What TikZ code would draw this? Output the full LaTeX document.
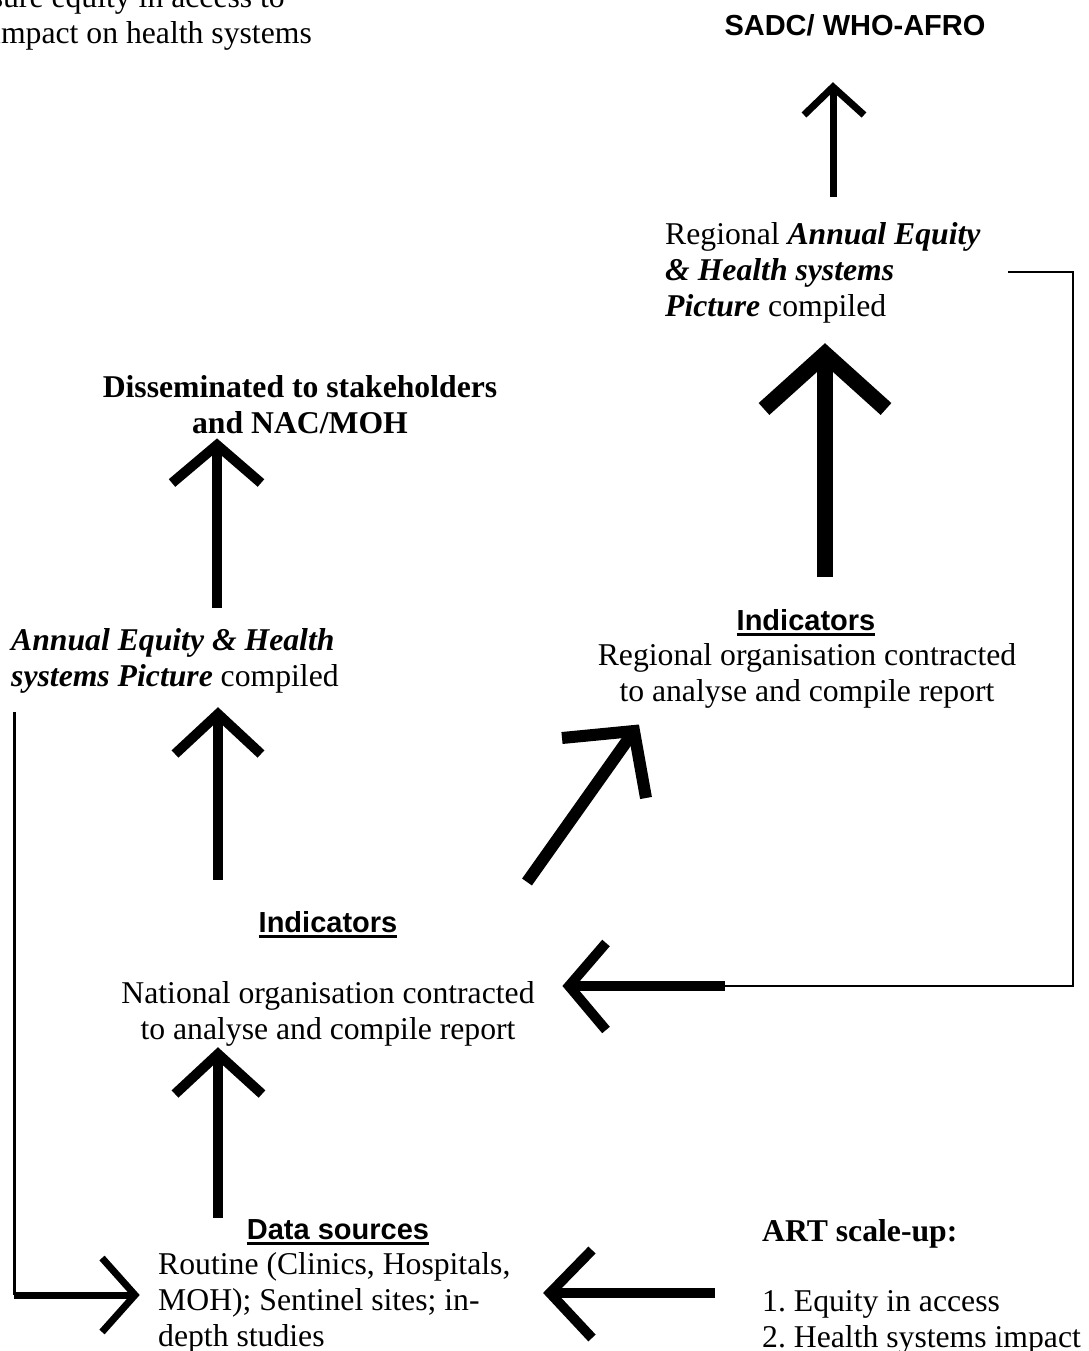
\documentclass[tikz,border=0pt]{standalone}
\usepackage{fontspec}
\setmainfont{Liberation Serif}
\setsansfont{Liberation Sans}
\usetikzlibrary{calc}
\newcommand\serifsz{\fontsize{31.7pt}{36pt}\selectfont}
\newcommand\sanshead{\fontsize{29pt}{34pt}\selectfont\sffamily\bfseries}
\newcommand\rowsof[2]{\begin{tabular}[t]{@{}#1@{}}#2\end{tabular}}
\newcommand\bi[1]{\textbf{\textit{#1}}}
\newcommand\undl[1]{\setbox0\hbox{#1}\rlap{\rule[-5.5pt]{\wd0}{2.5pt}}\box0}
\newcommand\headV[4]{\draw[#1] ($(#2)+(#3)$) -- (#2) -- ($(#2)+(#4)$);}
\begin{document}
\begin{tikzpicture}[x=1pt,y=-1pt,
  txt/.style={inner sep=0pt, font=\serifsz},
  head/.style={inner sep=0pt, font=\sanshead},
  thinln/.style={line width=2pt},
  shaft/.style={line width=#1, line cap=butt},
  barb/.style={line width=#1, line join=miter, line cap=butt}]
\useasboundingbox (0,0) rectangle (1088,1351);
\fill[white] (0,0) rectangle (1088,1351);

% texts
\node[txt, anchor=base east] (topA) at (285,8) {sure equity in access to};
\node[txt, anchor=base east] (topB) at (312,44) {impact on health systems};
\node[head, anchor=base] (sadc) at (855,36) {SADC/ WHO-AFRO};
\node[txt, anchor=base west] (regpic) at (665,244) {\rowsof{l}{Regional \bi{Annual Equity}\\ \bi{\& Health systems}\\ \bi{Picture} compiled}};
\node[head, anchor=base] (regindh) at (806,630) {\undl{Indicators}};
\node[txt, anchor=base] (regind) at (807,665) {\rowsof{c}{Regional organisation contracted\\to analyse and compile report}};
\node[txt, anchor=base, font=\serifsz\bfseries] (dissem) at (300,397) {\rowsof{c}{Disseminated to stakeholders\\and NAC/MOH}};
\node[txt, anchor=base west] (natpic) at (11,650) {\rowsof{l}{\bi{Annual Equity \& Health}\\ \bi{systems Picture} compiled}};
\node[head, anchor=base] (natindh) at (328,932) {\undl{Indicators}};
\node[txt, anchor=base] (natind) at (328,1003) {\rowsof{c}{National organisation contracted\\to analyse and compile report}};
\node[head, anchor=base] (datah) at (338,1239) {\undl{Data sources}};
\node[txt, anchor=base west] (data) at (158,1274) {\rowsof{l}{Routine (Clinics, Hospitals,\\MOH); Sentinel sites; in-\\depth studies}};
\node[txt, anchor=base west, font=\serifsz\bfseries] (art) at (762,1241) {ART scale-up:};
\node[txt, anchor=base west] (artlist) at (762,1311) {\rowsof{l}{1.\ Equity in access\\2.\ Health systems impact}};

% connector end points
\coordinate (aT) at (833,197);  \coordinate (aH) at (833,87);
\coordinate (bT) at (825,577);  \coordinate (bH) at (825,354);
\coordinate (cT) at (217,608);  \coordinate (cH) at (217,445);
\coordinate (dT) at (218,880);  \coordinate (dH) at (218,714);
\coordinate (fT) at (218,1218); \coordinate (fH) at (218,1054);
\coordinate (gT) at (527,882);  \coordinate (gH) at (634,731);
\coordinate (loopR1) at (1008,272); \coordinate (loopR2) at (1073,272);
\coordinate (loopR3) at (1073,986); \coordinate (hT) at (725,986);
\coordinate (hH) at (569,986);
\coordinate (iT) at (715,1293); \coordinate (iH) at (550,1293);
\coordinate (loopL1) at (14,712); \coordinate (loopL2) at (14,1295);
\coordinate (jH) at (135,1295);

% regional picture -> SADC
\draw[shaft=7pt] (aT) -- (aH);
\headV{barb=7pt}{aH}{-29,28}{31,28}
% regional indicators -> regional picture
\draw[shaft=16pt] (bT) -- (bH);
\headV{barb=16pt}{bH}{-61,55}{61,55}
% national picture -> disseminated
\draw[shaft=10pt] (cT) -- (cH);
\headV{barb=10pt}{cH}{-45,38}{44,38}
% national indicators -> national picture
\draw[shaft=10pt] (dT) -- (dH);
\headV{barb=10pt}{dH}{-43,40}{43,40}
% data sources -> national indicators
\draw[shaft=10pt] (fT) -- (fH);
\headV{barb=10pt}{fH}{-43,40}{44,40}
% national -> regional indicators
\draw[shaft=12pt] (gT) -- (gH);
\headV{barb=12pt}{gH}{-72,7}{12,67}
% regional picture feedback -> national indicators
\draw[thinln] (loopR1) -- (loopR2) -- (loopR3) -- (hT);
\draw[shaft=10pt] (hT) -- (hH);
\headV{barb=10pt}{hH}{37,-43}{37,44}
% ART scale-up -> data sources
\draw[shaft=10pt] (iT) -- (iH);
\headV{barb=10pt}{iH}{42,-43}{42,45}
% national picture feedback -> data sources
\draw[line width=3pt] (loopL1) -- (loopL2);
\draw[shaft=7pt] (loopL2) -- (jH);
\headV{barb=7pt}{jH}{-33,-37}{-33,37}
\end{tikzpicture}
\end{document}
